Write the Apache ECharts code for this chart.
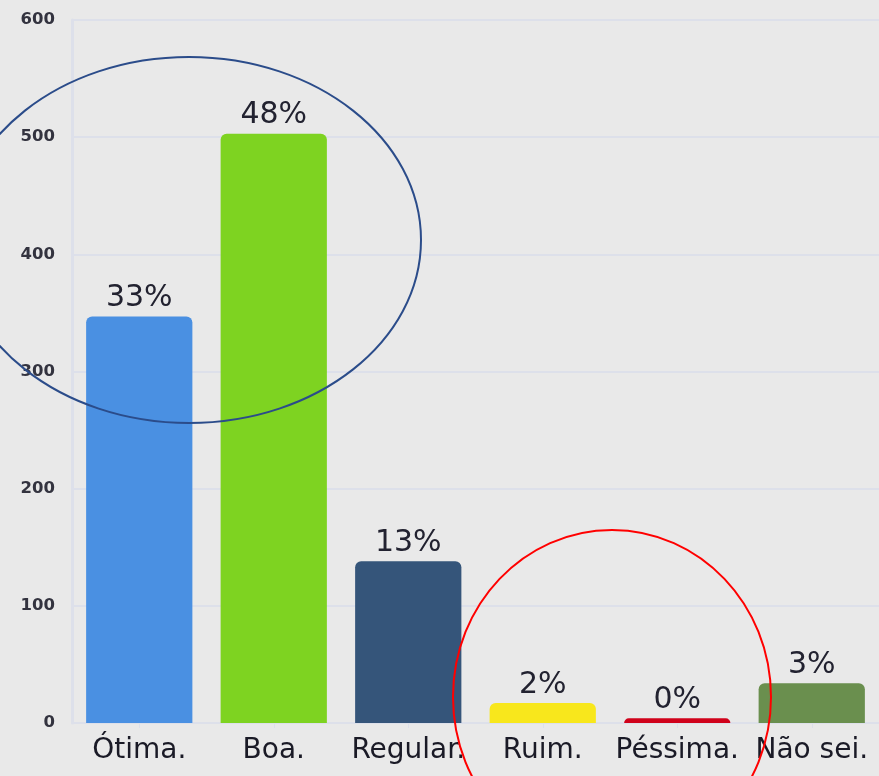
<!DOCTYPE html>
<html>
<head>
<meta charset="utf-8">
<script src="https://cdn.jsdelivr.net/npm/echarts@6/dist/echarts.min.js"></script>
<style>
html,body{margin:0;padding:0;background:#e9e9e9;}
#chart{width:879px;height:776px;}
</style>
</head>
<body>
<div id="chart"></div>
<script>
var categories = ['Ótima.', 'Boa.', 'Regular.', 'Ruim.', 'Péssima.', 'Não sei.'];
var counts = [347, 503, 138, 17, 4, 34];
var percentLabels = ['33%', '48%', '13%', '2%', '0%', '3%'];
var barColors = ['#4a90e2', '#7ed321', '#35557a', '#f8e71c', '#d0021b', '#6a8f4e'];
var yTicks = [0, 100, 200, 300, 400, 500, 600];

var chart = echarts.init(document.getElementById('chart'));
var lineColor = '#dde0ea';
chart.setOption({
  backgroundColor: '#e9e9e9',
  animation: false,
  grid: {left: 72, right: 0, top: 20, bottom: 53, containLabel: false},
  xAxis: {
    type: 'category',
    data: categories,
    axisLine: {show: true, lineStyle: {color: lineColor, width: 2}},
    axisTick: {show: true, alignWithLabel: true, length: 5, lineStyle: {color: lineColor}},
    axisLabel: {
      interval: 0, margin: 14,
      fontFamily: 'DejaVu Sans', fontSize: 28, color: '#1a1a26'
    }
  },
  yAxis: {
    type: 'value',
    min: yTicks[0], max: yTicks[yTicks.length - 1], interval: 100,
    axisLine: {show: true, lineStyle: {color: lineColor, width: 3}},
    axisTick: {show: false},
    splitLine: {lineStyle: {color: lineColor, width: 2}},
    axisLabel: {
      margin: 17, fontFamily: 'DejaVu Sans', fontSize: 16.5, fontWeight: 'bold', color: '#33333f'
    }
  },
  series: [{
    type: 'bar',
    data: counts.map(function (v, i) {
      return {value: v, itemStyle: {color: barColors[i]}};
    }),
    barCategoryGap: '21%',
    itemStyle: {borderRadius: [6, 6, 0, 0]},
    label: {
      show: true, position: 'top', distance: 3,
      fontFamily: 'DejaVu Sans', fontSize: 30, color: '#222230',
      formatter: function (p) { return percentLabels[p.dataIndex]; }
    }
  }],
  graphic: [
    {type: 'ellipse', z: 100, shape: {cx: 189, cy: 240, rx: 232, ry: 183},
     style: {fill: 'none', stroke: '#2b4c8a', lineWidth: 2}},
    {type: 'ellipse', z: 100, shape: {cx: 612, cy: 697, rx: 159, ry: 167},
     style: {fill: 'none', stroke: '#ff0000', lineWidth: 2}}
  ]
});
</script>
</body>
</html>
